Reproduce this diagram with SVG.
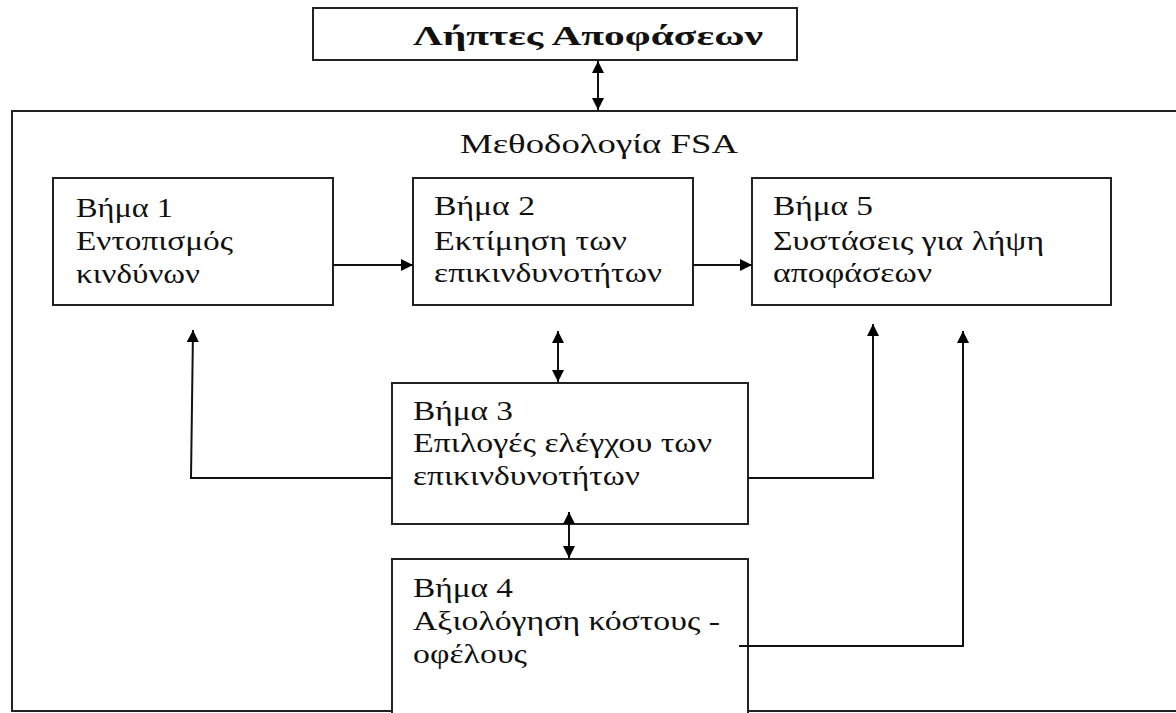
<svg xmlns="http://www.w3.org/2000/svg" width="1176" height="713" viewBox="0 0 1176 713">
<defs>
<marker id="ah" markerWidth="12" markerHeight="12" refX="12" refY="6" orient="auto-start-reverse" markerUnits="userSpaceOnUse">
<path d="M0,0 L12,6 L0,12 Z" fill="#000"/>
</marker>
</defs>
<style>
.box{fill:#fff;stroke:#222;stroke-width:2}
.ln{fill:none;stroke:#222;stroke-width:2}
.t{font-family:"Liberation Serif","Times New Roman",serif;font-size:28px;fill:#111}
.c{fill:none;stroke:#111;stroke-width:2}
</style>
<rect width="1176" height="713" fill="#fff"/>
<g id="frame">
<path class="ln" d="M1178,111 L12,111 L12,711 L392,711 M748,711 L1178,711"/>
<text class="t" x="460" y="153" textLength="278" lengthAdjust="spacingAndGlyphs">Μεθοδολογία FSA</text>
</g>
<g id="decision-makers">
<rect class="box" x="313" y="8" width="484" height="52"/>
<text class="t" x="413" y="45" font-weight="bold" font-size="26" textLength="350" lengthAdjust="spacingAndGlyphs">Λήπτες Αποφάσεων</text>
</g>
<g id="step1">
<rect class="box" x="53" y="178" width="280" height="127"/>
<text class="t" x="76" y="217" textLength="97" lengthAdjust="spacingAndGlyphs">Βήμα 1</text>
<text class="t" x="76" y="250" textLength="157" lengthAdjust="spacingAndGlyphs">Εντοπισμός</text>
<text class="t" x="76" y="283" textLength="124" lengthAdjust="spacingAndGlyphs">κινδύνων</text>
</g>
<g id="step2">
<rect class="box" x="413" y="178" width="280" height="127"/>
<text class="t" x="434" y="215" textLength="101" lengthAdjust="spacingAndGlyphs">Βήμα 2</text>
<text class="t" x="434" y="250" textLength="193" lengthAdjust="spacingAndGlyphs">Εκτίμηση των</text>
<text class="t" x="434" y="282" textLength="228" lengthAdjust="spacingAndGlyphs">επικινδυνοτήτων</text>
</g>
<g id="step5">
<rect class="box" x="752" y="178" width="359" height="127"/>
<text class="t" x="773" y="215" textLength="100" lengthAdjust="spacingAndGlyphs">Βήμα 5</text>
<text class="t" x="773" y="250" textLength="271" lengthAdjust="spacingAndGlyphs">Συστάσεις για λήψη</text>
<text class="t" x="773" y="282" textLength="159" lengthAdjust="spacingAndGlyphs">αποφάσεων</text>
</g>
<g id="step3">
<rect class="box" x="392" y="383" width="356" height="141"/>
<text class="t" x="413" y="420" textLength="100" lengthAdjust="spacingAndGlyphs">Βήμα 3</text>
<text class="t" x="413" y="452" textLength="299" lengthAdjust="spacingAndGlyphs">Επιλογές ελέγχου των</text>
<text class="t" x="413" y="485" textLength="227" lengthAdjust="spacingAndGlyphs">επικινδυνοτήτων</text>
</g>
<g id="step4">
<path class="box" d="M392,713 L392,559 L748,559 L748,713"/>
<text class="t" x="413" y="597" textLength="100" lengthAdjust="spacingAndGlyphs">Βήμα 4</text>
<text class="t" x="413" y="630" textLength="307" lengthAdjust="spacingAndGlyphs">Αξιολόγηση κόστους -</text>
<text class="t" x="413" y="663" textLength="114" lengthAdjust="spacingAndGlyphs">οφέλους</text>
</g>
<g id="connectors">
<line class="c" x1="598" y1="61" x2="598" y2="110" marker-start="url(#ah)" marker-end="url(#ah)"/>
<line class="c" x1="333" y1="265" x2="413" y2="265" marker-end="url(#ah)"/>
<line class="c" x1="693" y1="265" x2="752" y2="265" marker-end="url(#ah)"/>
<line class="c" x1="558" y1="331" x2="558" y2="382" marker-start="url(#ah)" marker-end="url(#ah)"/>
<line class="c" x1="569" y1="512" x2="569" y2="558" marker-start="url(#ah)" marker-end="url(#ah)"/>
<polyline class="c" points="392,478 191,478 193,330" marker-end="url(#ah)"/>
<polyline class="c" points="748,478 873,478 873,324" marker-end="url(#ah)"/>
<polyline class="c" points="739,646 963,646 963,331" marker-end="url(#ah)"/>
</g>
</svg>
